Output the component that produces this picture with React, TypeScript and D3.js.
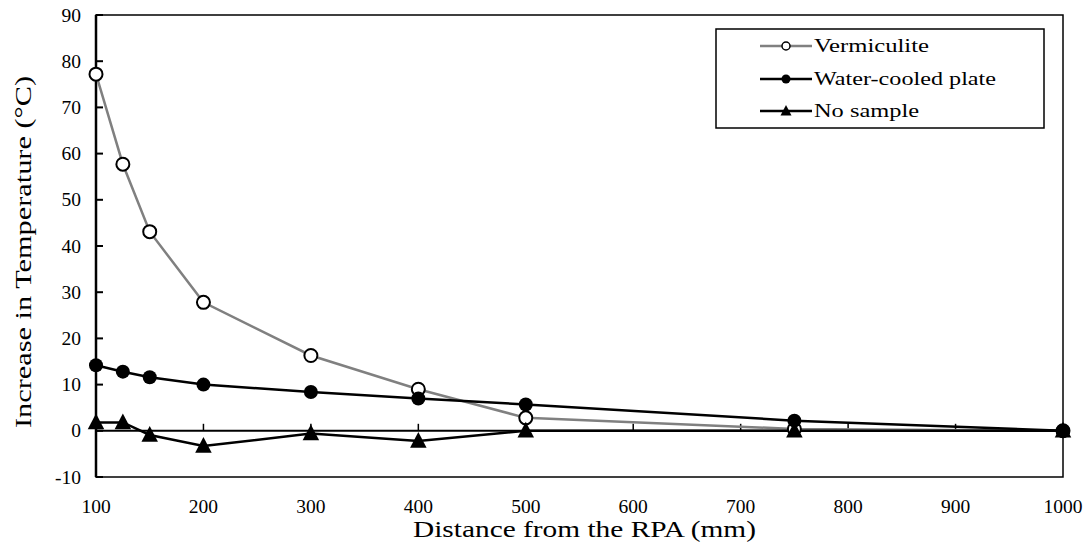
import React from "react";
import * as d3 from "d3";

const distances = [100, 125, 150, 200, 300, 400, 500, 750, 1000];
const vermiculite = [77.2, 57.7, 43.1, 27.8, 16.3, 9.0, 2.8, 0.4, 0];
const waterCooled = [14.2, 12.8, 11.6, 10.0, 8.4, 7.0, 5.7, 2.2, 0];
const noSample = [1.8, 1.8, -0.9, -3.3, -0.6, -2.2, 0, 0, 0];
const xTicks = [100, 200, 300, 400, 500, 600, 700, 800, 900, 1000];
const yTicks = [-10, 0, 10, 20, 30, 40, 50, 60, 70, 80, 90];
const seriesNames = ["Vermiculite", "Water-cooled plate", "No sample"];
const legendWidths = [115, 182, 105];

const FONT = "'Liberation Serif', 'Times New Roman', serif";

export default function App() {
  const W = 1089, H = 550;
  const left = 96, right = 1063, top = 15, bottom = 477;
  const x = d3.scaleLinear().domain([100, 1000]).range([left, right]);
  const y = d3.scaleLinear().domain([-10, 90]).range([bottom, top]);
  const line = d3
    .line<[number, number]>()
    .x((d) => x(d[0]))
    .y((d) => y(d[1]));
  const pts = (vals: number[]) => distances.map((d, i) => [d, vals[i]] as [number, number]);
  const tri = (cx: number, cy: number, s: number) =>
    `M${cx},${cy - s * 0.6}L${cx + s * 0.55},${cy + s * 0.45}L${cx - s * 0.55},${cy + s * 0.45}Z`;

  const legendX = 716, legendY = 29, legendW = 328, legendH = 99;
  const rowsY = [46, 79, 111];

  return (
    <svg width={W} height={H} style={{ position: "absolute", left: 0, top: 0 }} fontFamily={FONT}>
      <rect x={0} y={0} width={W} height={H} fill="white" />
      {/* plot frame */}
      <rect x={left} y={top} width={right - left} height={bottom - top} fill="none" stroke="black" strokeWidth={1.5} />
      <line x1={left} x2={left} y1={top} y2={bottom} stroke="black" strokeWidth={2.5} />
      {/* zero axis */}
      <line x1={left} x2={right} y1={y(0)} y2={y(0)} stroke="black" strokeWidth={2} />
      {/* y ticks */}
      {yTicks.map((t) => (
        <g key={"y" + t}>
          <line x1={left} x2={left + 7} y1={y(t)} y2={y(t)} stroke="black" strokeWidth={2} />
          <text x={81} y={y(t) + 6.5} textAnchor="end" fontSize={19.5} fill="black">
            {t}
          </text>
        </g>
      ))}
      {/* x ticks */}
      {xTicks.map((t) => (
        <g key={"x" + t}>
          <line x1={x(t)} x2={x(t)} y1={y(0)} y2={y(0) - 7} stroke="black" strokeWidth={1.5} />
          <text x={x(t)} y={513} textAnchor="middle" fontSize={19.5} fill="black">
            {t}
          </text>
        </g>
      ))}
      {/* axis titles */}
      <text
        x={584.5}
        y={537}
        textAnchor="middle"
        fontSize={22.5}
        fill="black"
        textLength={343}
        lengthAdjust="spacingAndGlyphs"
      >
        Distance from the RPA (mm)
      </text>
      <text
        transform={`translate(31,252) rotate(-90)`}
        textAnchor="middle"
        fontSize={22.5}
        fill="black"
        textLength={352}
        lengthAdjust="spacingAndGlyphs"
      >
        Increase in Temperature (°C)
      </text>
      {/* lines */}
      <path d={line(pts(vermiculite)) || ""} fill="none" stroke="#808080" strokeWidth={2.5} />
      <path d={line(pts(waterCooled)) || ""} fill="none" stroke="black" strokeWidth={2.5} />
      <path d={line(pts(noSample)) || ""} fill="none" stroke="black" strokeWidth={2.5} />
      {/* markers */}
      {pts(vermiculite).map((p, i) => (
        <circle key={"v" + i} cx={x(p[0])} cy={y(p[1])} r={6.5} fill="white" stroke="black" strokeWidth={2} />
      ))}
      {pts(waterCooled).map((p, i) => (
        <circle key={"w" + i} cx={x(p[0])} cy={y(p[1])} r={7} fill="black" />
      ))}
      {pts(noSample).map((p, i) => (
        <path key={"n" + i} d={tri(x(p[0]), y(p[1]), 15)} fill="black" />
      ))}
      {/* legend */}
      <rect x={legendX} y={legendY} width={legendW} height={legendH} fill="white" stroke="black" strokeWidth={1.5} />
      {seriesNames.map((name, i) => {
        const ly = rowsY[i];
        return (
          <g key={name}>
            <line x1={760} x2={812} y1={ly} y2={ly} stroke={i === 0 ? "#808080" : "black"} strokeWidth={2.5} />
            {i === 0 && <circle cx={786} cy={ly} r={4} fill="white" stroke="black" strokeWidth={1.5} />}
            {i === 1 && <circle cx={786} cy={ly} r={4.5} fill="black" />}
            {i === 2 && <path d={tri(786, ly, 10)} fill="black" />}
            <text
              x={814}
              y={ly + 6}
              fontSize={19.5}
              fill="black"
              textLength={legendWidths[i]}
              lengthAdjust="spacingAndGlyphs"
            >
              {name}
            </text>
          </g>
        );
      })}
    </svg>
  );
}
